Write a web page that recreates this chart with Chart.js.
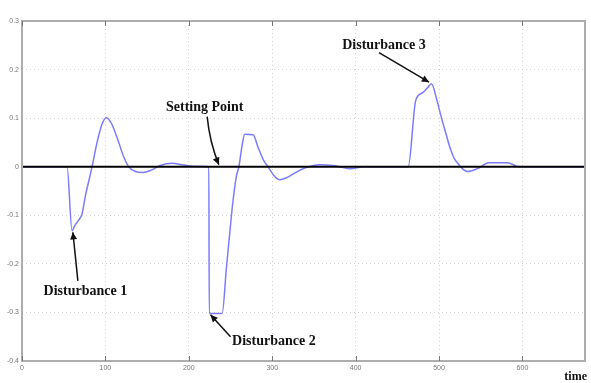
<!DOCTYPE html>
<html>
<head>
<meta charset="utf-8">
<script src="https://cdn.jsdelivr.net/npm/chart.js@4.4.1/dist/chart.umd.min.js"></script>
<style>
  html, body { margin: 0; padding: 0; background: #fff; }
  #wrap { width: 591px; height: 383px; position: relative; }
</style>
</head>
<body>
<div id="wrap"><canvas id="chart"></canvas></div>
<script>
// ---- data ----
const timeValues = [
    0, 54, 60, 63, 68, 72, 76, 80, 84, 90, 96, 101, 107, 115, 122, 128, 136, 145, 155, 165, 180, 192, 205, 224,
    224.5, 240, 245, 250, 253, 257, 260, 264, 267, 277, 283, 290, 295, 302, 309, 318, 330, 340, 357, 375, 393, 410, 463,
    472, 480, 486, 491, 497, 503, 508, 513, 518, 522, 528, 534, 546, 560, 582, 596, 675
];
const responseValues = [
    0, 0, -0.132, -0.122, -0.11, -0.097, -0.06, -0.03, 0, 0.05, 0.088, 0.101, 0.09, 0.055, 0.02, 0, -0.01, -0.012, -0.007, 0.002, 0.007, 0.004, 0.001, 0,
    -0.302, -0.302, -0.21, -0.12, -0.07, -0.02, 0, 0.045, 0.067, 0.066, 0.04, 0.012, 0, -0.018, -0.027, -0.022, -0.01, -0.002, 0.004, 0.002, -0.004, 0, 0,
    0.136, 0.152, 0.162, 0.171, 0.14, 0.10, 0.07, 0.04, 0.018, 0.008, -0.004, -0.01, -0.004, 0.008, 0.008, 0, 0
];
const setPoint = 0;
const xTicks = [0, 100, 200, 300, 400, 500, 600];
const yTickLabels = { "0.3": "0.3", "0.2": "0.2", "0.1": "0.1", "0": "0", "-0.1": "-0.1", "-0.2": "-0.2", "-0.3": "-0.3", "-0.4": "-0.4" };
const xMin = 0, xMax = 675, yMin = -0.4, yMax = 0.3;

// annotations: text centre and arrow (from -> tip) in data units
const notes = [
    { text: "Disturbance 1", at: [76, -0.257], from: [67, -0.235], tip: [61, -0.135] },
    { text: "Disturbance 2", at: [302, -0.36], from: [250, -0.35], tip: [226, -0.305] },
    { text: "Setting Point", at: [219, 0.122], from: [222, 0.103], tip: [236, 0.004], bend: [225, 0.05] },
    { text: "Disturbance 3", at: [434, 0.249], from: [428, 0.235], tip: [488, 0.174] }
];

const serif = '"Liberation Serif", "DejaVu Serif", serif';

const points = timeValues.map((t, i) => ({ x: t, y: responseValues[i] }));
const refLine = [{ x: xMin, y: setPoint }, { x: xMax, y: setPoint }];

function arrowHead(ctx, x1, y1, x2, y2) {
    const a = Math.atan2(y2 - y1, x2 - x1);
    const len = 8, w = 0.45;
    ctx.beginPath();
    ctx.moveTo(x2, y2);
    ctx.lineTo(x2 - len * Math.cos(a - w), y2 - len * Math.sin(a - w));
    ctx.lineTo(x2 - len * Math.cos(a + w), y2 - len * Math.sin(a + w));
    ctx.closePath();
    ctx.fill();
}

const decor = {
    id: "decor",
    afterDatasetsDraw(chart) {
        const { ctx, chartArea: ca, scales } = chart;
        const X = v => scales.x.getPixelForValue(v);
        const Y = v => scales.y.getPixelForValue(v);
        ctx.save();
        // frame
        ctx.strokeStyle = "#adadad";
        ctx.lineWidth = 2;
        ctx.strokeRect(ca.left, ca.top, ca.right - ca.left, ca.bottom - ca.top);
        // small inner ticks on top and bottom
        ctx.strokeStyle = "#777";
        ctx.lineWidth = 1;
        xTicks.forEach(t => {
            const px = Math.round(X(t)) + 0.5;
            ctx.beginPath();
            ctx.moveTo(px, ca.bottom); ctx.lineTo(px, ca.bottom - 5);
            ctx.moveTo(px, ca.top); ctx.lineTo(px, ca.top + 5);
            ctx.stroke();
        });
        // annotations
        ctx.fillStyle = "#111";
        ctx.strokeStyle = "#111";
        ctx.lineWidth = 1.5;
        ctx.font = "bold 14px " + serif;
        ctx.textAlign = "center";
        ctx.textBaseline = "middle";
        notes.forEach(n => {
            ctx.fillText(n.text, X(n.at[0]), Y(n.at[1]));
            const fx = X(n.from[0]), fy = Y(n.from[1]);
            const tx = X(n.tip[0]), ty = Y(n.tip[1]);
            ctx.beginPath();
            ctx.moveTo(fx, fy);
            let px = fx, py = fy;
            if (n.bend) {
                const bx = X(n.bend[0]), by = Y(n.bend[1]);
                ctx.quadraticCurveTo(bx, by, tx, ty);
                px = bx; py = by;
            } else {
                ctx.lineTo(tx, ty);
            }
            ctx.stroke();
            arrowHead(ctx, px, py, tx, ty);
        });
        // axis name
        ctx.font = "bold 12px " + serif;
        ctx.textAlign = "right";
        ctx.textBaseline = "alphabetic";
        ctx.fillText("time", ca.right + 2, ca.bottom + 19);
        ctx.restore();
    }
};

new Chart(document.getElementById("chart"), {
    type: "scatter",
    data: {
        datasets: [
            {
                label: "response",
                data: points,
                showLine: true,
                borderColor: "#7b7bff",
                borderWidth: 1.5,
                pointRadius: 0,
                cubicInterpolationMode: "monotone",
                order: 2
            },
            {
                label: "set point",
                data: refLine,
                showLine: true,
                borderColor: "#000",
                borderWidth: 2,
                pointRadius: 0,
                order: 1
            }
        ]
    },
    plugins: [decor],
    options: {
        responsive: true,
        maintainAspectRatio: false,
        animation: false,
        layout: { padding: { top: 21, right: 6, left: 0, bottom: 0 } },
        plugins: { legend: { display: false }, tooltip: { enabled: false } },
        scales: {
            x: {
                type: "linear",
                min: xMin,
                max: xMax,
                afterFit: s => { s.height = 22; },
                afterBuildTicks: s => { s.ticks = xTicks.map(v => ({ value: v })); },
                ticks: { includeBounds: false, color: "#777", font: { size: 7 }, padding: 3, maxRotation: 0 },
                grid: { color: "#d2d2d2", drawTicks: false, lineWidth: 1 },
                border: { display: false, dash: [1, 3] }
            },
            y: {
                type: "linear",
                min: yMin,
                max: yMax,
                afterFit: s => { s.width = 22; },
                ticks: {
                    stepSize: 0.1,
                    color: "#777",
                    font: { size: 7 },
                    padding: 3,
                    callback: v => yTickLabels[String(Math.round(v * 10) / 10)] ?? ""
                },
                grid: { color: "#d2d2d2", drawTicks: false, lineWidth: 1 },
                border: { display: false, dash: [1, 3] }
            }
        }
    }
});
</script>
</body>
</html>
